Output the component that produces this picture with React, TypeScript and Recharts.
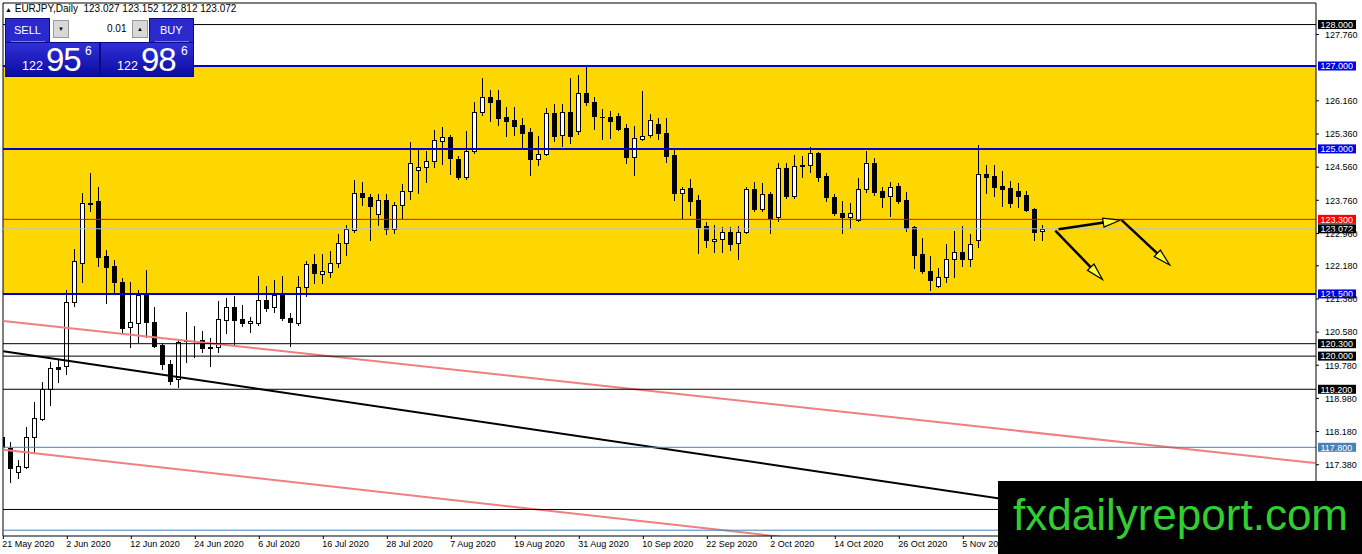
import React from 'react';
import { ComposedChart, Bar, XAxis, YAxis, ReferenceLine, ReferenceArea } from 'recharts';

// EURJPY daily candles, [open, high, low, close], 21 May 2020 -> 17 Nov 2020
const ohlc: [number, number, number, number][] = [
  [118.06, 118.5, 117.7, 117.8], [117.78, 117.94, 116.97, 117.29], [117.21, 117.49, 117.05, 117.35],
  [117.33, 118.3, 117.29, 118.06], [118.06, 118.89, 117.66, 118.5], [118.48, 119.37, 118.45, 119.2],
  [119.21, 119.87, 118.82, 119.71], [119.73, 119.91, 119.38, 119.7], [119.75, 121.6, 119.57, 121.31],
  [121.31, 122.59, 121.22, 122.3], [122.25, 123.94, 121.8, 123.69], [123.69, 124.41, 123.49, 123.67],
  [123.74, 124.09, 122.18, 122.4], [122.42, 122.56, 121.29, 122.16], [122.18, 122.32, 121.52, 121.8],
  [121.79, 121.88, 120.57, 120.69], [120.7, 121.8, 120.23, 120.83], [120.79, 121.6, 120.33, 121.48],
  [121.49, 122.08, 120.47, 120.82], [120.82, 121.19, 120.23, 120.25], [120.27, 120.32, 119.68, 119.8],
  [119.8, 119.91, 119.33, 119.4], [119.45, 120.41, 119.26, 120.33], [120.39, 121.06, 119.87, 120.37],
  [120.37, 120.73, 119.99, 120.36], [120.39, 120.61, 120.11, 120.19], [120.22, 120.43, 119.77, 120.2],
  [120.21, 121.33, 120.11, 120.89], [120.86, 121.41, 120.55, 121.18], [121.18, 121.45, 120.27, 120.88],
  [120.89, 121.23, 120.73, 120.79], [120.79, 120.95, 120.57, 120.84], [120.79, 121.93, 120.75, 121.35],
  [121.35, 121.69, 121.1, 121.15], [121.18, 121.84, 121.07, 121.48], [121.48, 121.93, 120.86, 120.91],
  [120.91, 121.03, 120.25, 120.83], [120.79, 121.93, 120.75, 121.66], [121.66, 122.3, 121.45, 122.22],
  [122.22, 122.46, 121.77, 122.01], [121.99, 122.46, 121.77, 122.05], [122.03, 122.54, 121.9, 122.24],
  [122.24, 122.95, 122.16, 122.72], [122.72, 123.16, 122.44, 123.06], [123.04, 124.25, 123.0, 123.93],
  [123.94, 124.19, 123.65, 123.85], [123.85, 123.91, 122.79, 123.62], [123.43, 123.91, 123.16, 123.77],
  [123.77, 123.91, 122.95, 123.06], [123.06, 123.73, 122.96, 123.65], [123.65, 124.15, 123.31, 123.99],
  [123.99, 125.17, 123.78, 124.67], [124.49, 124.97, 123.94, 124.56], [124.56, 124.95, 124.21, 124.71],
  [124.71, 125.46, 124.57, 125.21], [125.2, 125.52, 124.64, 125.28], [125.28, 125.34, 124.39, 124.77],
  [124.75, 124.83, 124.27, 124.31], [124.33, 125.44, 124.27, 124.95], [124.95, 126.14, 124.89, 125.9],
  [125.9, 126.7, 125.82, 126.24], [126.24, 126.42, 125.68, 126.14], [126.18, 126.42, 125.58, 125.75],
  [125.76, 126.0, 125.3, 125.68], [125.7, 126.0, 125.34, 125.56], [125.58, 125.74, 125.03, 125.39],
  [125.41, 125.5, 124.37, 124.75], [124.75, 125.3, 124.61, 124.87], [124.87, 125.99, 124.86, 125.86],
  [125.86, 126.08, 125.19, 125.31], [125.34, 126.08, 125.07, 125.9], [125.9, 126.7, 125.15, 125.31],
  [125.44, 126.78, 125.35, 126.34], [126.34, 127.02, 126.06, 126.12], [126.14, 126.26, 125.47, 125.8],
  [125.78, 125.96, 125.23, 125.76], [125.76, 125.92, 125.26, 125.68], [125.79, 125.87, 125.46, 125.48],
  [125.5, 125.59, 124.65, 124.8], [124.8, 125.56, 124.37, 125.26], [125.25, 126.4, 125.21, 125.32],
  [125.33, 125.85, 125.28, 125.7], [125.6, 125.75, 125.23, 125.38], [125.38, 125.75, 124.69, 124.83],
  [124.85, 124.97, 123.77, 123.94], [123.94, 124.07, 123.3, 124.03], [124.05, 124.27, 123.41, 123.75],
  [123.77, 123.89, 122.48, 123.12], [123.14, 123.24, 122.63, 122.79], [122.77, 123.16, 122.52, 122.83],
  [122.82, 123.12, 122.52, 122.99], [122.99, 123.11, 122.56, 122.71], [122.72, 123.14, 122.34, 123.0],
  [123.0, 124.09, 122.96, 124.03], [124.03, 124.21, 123.49, 123.54], [123.55, 124.17, 123.51, 123.9],
  [123.91, 123.97, 122.98, 123.34], [123.36, 124.65, 123.26, 124.53], [124.55, 124.67, 123.81, 123.86],
  [123.86, 124.85, 123.81, 124.59], [124.59, 124.83, 124.31, 124.62], [124.61, 125.05, 124.45, 124.89],
  [124.91, 124.93, 124.23, 124.33], [124.35, 124.41, 123.75, 123.83], [123.85, 123.91, 123.41, 123.46],
  [123.46, 123.74, 122.96, 123.36], [123.36, 123.69, 123.08, 123.45], [123.28, 124.29, 123.27, 124.03],
  [124.03, 124.95, 123.97, 124.65], [124.65, 124.77, 123.89, 123.97], [123.99, 124.09, 123.61, 123.85],
  [123.86, 124.19, 123.38, 124.09], [124.1, 124.17, 123.7, 123.74], [123.77, 123.97, 123.03, 123.08],
  [123.11, 123.14, 122.13, 122.44], [122.46, 122.86, 122.01, 122.06], [122.05, 122.42, 121.6, 121.84],
  [121.7, 122.12, 121.66, 121.9], [121.9, 122.71, 121.78, 122.34], [122.34, 123.03, 121.92, 122.51],
  [122.51, 123.14, 122.17, 122.34], [122.34, 122.94, 122.17, 122.7], [122.8, 125.09, 122.63, 124.39],
  [124.39, 124.61, 123.94, 124.33], [124.35, 124.61, 123.86, 124.09], [124.1, 124.47, 123.63, 124.03],
  [124.05, 124.23, 123.61, 123.7], [123.99, 124.18, 123.61, 123.87], [123.89, 123.99, 123.49, 123.53],
  [123.55, 123.58, 122.8, 123.0], [123.027, 123.152, 122.812, 123.072],
];

const dateTicks = [0, 8, 16, 24, 32, 40, 48, 56, 64, 72, 80, 88, 96, 104, 112, 120];
const dateLabels = [
  '21 May 2020', '2 Jun 2020', '12 Jun 2020', '24 Jun 2020', '6 Jul 2020', '16 Jul 2020',
  '28 Jul 2020', '7 Aug 2020', '19 Aug 2020', '31 Aug 2020', '10 Sep 2020', '22 Sep 2020',
  '2 Oct 2020', '14 Oct 2020', '26 Oct 2020', '5 Nov 2020',
];
const priceTicks = [127.76, 126.16, 125.36, 124.56, 123.76, 122.96, 122.18, 121.38, 120.58, 119.78, 118.98, 118.18, 117.38];

const zone = [121.5, 127];
const blueLevels = [127, 125, 121.5];
const blackLevels = [128, 120.3, 120, 119.2];
const redLevels = [123.3];
const steelLevels = [117.8];
const bidPrice = 123.072;
const coveredLevels = [116.3, 115.8];

// trend lines as [bar index, price] pairs
const upperChannel = [[0, 120.85], [164, 117.42]];
const lowerChannel = [[0, 117.74], [164, 114.2]];
const blackTrend = [[0, 120.12], [164, 115.44]];
const arrows = [
  [[131.9, 123.06], [139.6, 123.28]],
  [[131.5, 123.03], [137.4, 121.85]],
  [[139.8, 123.28], [145.8, 122.2]],
];

const xDomain = [-0.0375, 164.0875];
const yDomain = [115.66, 128.52];

const FONT = '"Liberation Sans", Arial, sans-serif';

const data = ohlc.map(([o, h, l, c], i) => ({ idx: i, o, h, l, c, range: [l, h] }));

const Candle = (props: any) => {
  const { x, y, width, height, payload } = props;
  if (!payload) return null;
  const { o, h, l, c } = payload;
  const top = Math.min(y, y + height);
  const bot = Math.max(y, y + height);
  const py = (p: number) => (h === l ? top : top + ((h - p) / (h - l)) * (bot - top));
  const cx = Math.floor(x + width / 2) + 0.5;
  const bTop = Math.round(py(Math.max(o, c))) + 0.5;
  const bBot = Math.round(py(Math.min(o, c))) + 0.5;
  const bull = c >= o;
  return (
    <g>
      <line x1={cx} x2={cx} y1={Math.round(top)} y2={Math.round(bot) + 1} stroke="#000" strokeWidth={1} />
      {bBot - bTop < 1 ? (
        <line x1={cx - 2.5} x2={cx + 2.5} y1={bTop} y2={bTop} stroke="#000" strokeWidth={1} />
      ) : (
        <rect x={cx - 2} y={bTop} width={4} height={bBot - bTop} fill={bull ? '#fff' : '#000'} stroke="#000" strokeWidth={1} />
      )}
    </g>
  );
};

const tag = (price: number, bg: string) => (props: any) => {
  const vb = props.viewBox || {};
  const right = (vb.x || 0) + (vb.width || 0);
  const y = vb.y || 0;
  return (
    <g>
      <rect x={right + 2} y={y - 4.5} width={38} height={9} fill={bg} />
      <text x={right + 4.5} y={y + 3.3} fill="#fff" fontSize={9} fontFamily={FONT}>
        {price.toFixed(3)}
      </text>
    </g>
  );
};

const DateTick = ({ x, y, payload }: any) => (
  <text x={x - 1} y={y + 8} fontSize={9} fontFamily={FONT} fill="#000" textAnchor="start">
    {dateLabels[dateTicks.indexOf(payload.value)]}
  </text>
);

const PriceTick = ({ x, y, payload }: any) => (
  <text x={x} y={y + 3.3} fontSize={9} fontFamily={FONT} fill="#000" textAnchor="start">
    {payload.value.toFixed(3)}
  </text>
);

const ArrowShape = (props: any) => {
  const { x1, y1, x2, y2 } = props;
  const dx = x2 - x1;
  const dy = y2 - y1;
  const len = Math.hypot(dx, dy) || 1;
  const ux = dx / len;
  const uy = dy / len;
  const hl = 17;
  const hw = 4.5;
  const bx = x2 - ux * hl;
  const by = y2 - uy * hl;
  const pts = `${x2},${y2} ${bx - uy * hw},${by + ux * hw} ${bx + uy * hw},${by - ux * hw}`;
  return (
    <g>
      <line x1={x1} y1={y1} x2={bx + ux * 4} y2={by + uy * 4} stroke="#000" strokeWidth={2.5} />
      <polygon points={pts} fill="#ffff33" stroke="#000" strokeWidth={1.2} />
    </g>
  );
};

const seg = (pts: number[][]) => pts.map(([x, y]) => ({ x, y }));

function TradePanel() {
  const blue = 'linear-gradient(#3030d8, #0c0ca0)';
  const box: React.CSSProperties = { position: 'absolute', background: blue, color: '#fff', fontFamily: FONT };
  const btn: React.CSSProperties = {
    position: 'absolute', top: 2, width: 16, height: 18, background: '#d8d8d8', border: '1px solid #999',
    boxSizing: 'border-box', fontSize: 6, textAlign: 'center', lineHeight: '16px',
  };
  return (
    <div style={{ position: 'absolute', left: 5, top: 18, width: 189, height: 59, background: '#0a0a86' }}>
      <div style={{ ...box, left: 1, top: 1, width: 43, height: 23, background: '#2a2acc' }}>
        <div style={{ position: 'absolute', left: 8, top: 5, fontSize: 11 }}>SELL</div>
        <div style={{ position: 'absolute', left: 5, top: 22, width: 34, height: 1, background: '#7a7ae8' }} />
      </div>
      <div style={{ position: 'absolute', left: 45, top: 0, width: 99, height: 24, background: '#fff' }}>
        <div style={{ ...btn, left: 3 }}>▼</div>
        <div style={{ position: 'absolute', left: 57, top: 5, fontSize: 10, fontFamily: FONT }}>0.01</div>
        <div style={{ ...btn, left: 82 }}>▲</div>
      </div>
      <div style={{ ...box, left: 145, top: 1, width: 43, height: 23, background: '#2a2acc' }}>
        <div style={{ position: 'absolute', left: 10, top: 5, fontSize: 11 }}>BUY</div>
        <div style={{ position: 'absolute', left: 5, top: 22, width: 34, height: 1, background: '#7a7ae8' }} />
      </div>
      <div style={{ ...box, left: 1, top: 25, width: 93, height: 33 }}>
        <div style={{ position: 'absolute', left: 16, top: 16, fontSize: 12.5 }}>122</div>
        <div style={{ position: 'absolute', left: 40, top: -2, fontSize: 33, letterSpacing: -1 }}>95</div>
        <div style={{ position: 'absolute', left: 79, top: 1, fontSize: 12 }}>6</div>
      </div>
      <div style={{ ...box, left: 96, top: 25, width: 92, height: 33 }}>
        <div style={{ position: 'absolute', left: 16, top: 16, fontSize: 12.5 }}>122</div>
        <div style={{ position: 'absolute', left: 40, top: -2, fontSize: 33, letterSpacing: -1 }}>98</div>
        <div style={{ position: 'absolute', left: 80, top: 1, fontSize: 12 }}>6</div>
      </div>
    </div>
  );
}

export default function App() {
  return (
    <div style={{ position: 'absolute', left: 0, top: 0, width: 1362, height: 554, background: '#fff', overflow: 'hidden' }}>
      <ComposedChart width={1362} height={554} data={data} margin={{ top: 3, right: 0, bottom: 0, left: 3 }}>
        <XAxis
          dataKey="idx"
          type="number"
          domain={xDomain}
          allowDataOverflow
          ticks={dateTicks}
          interval={0}
          tick={<DateTick />}
          tickSize={3}
          tickMargin={0}
          height={18}
          axisLine={{ stroke: '#000' }}
          tickLine={{ stroke: '#000' }}
        />
        <YAxis
          orientation="right"
          type="number"
          domain={yDomain}
          allowDataOverflow
          ticks={priceTicks}
          interval={0}
          tick={<PriceTick />}
          tickSize={3}
          tickMargin={6}
          width={46}
          axisLine={{ stroke: '#000' }}
          tickLine={{ stroke: '#000' }}
        />
        <ReferenceArea y1={zone[0]} y2={zone[1]} fill="#FFD700" fillOpacity={1} stroke="none" />
        <Bar dataKey="range" barSize={5} shape={<Candle />} isAnimationActive={false} />

        <ReferenceLine y={yDomain[1]} stroke="#000" strokeWidth={1} />
        <ReferenceLine x={xDomain[0]} stroke="#000" strokeWidth={1} />

        <ReferenceLine segment={seg(upperChannel)} stroke="#F08080" strokeWidth={2} ifOverflow="hidden" />
        <ReferenceLine segment={seg(lowerChannel)} stroke="#F08080" strokeWidth={2} ifOverflow="hidden" />
        <ReferenceLine segment={seg(blackTrend)} stroke="#000" strokeWidth={2} ifOverflow="hidden" />

        {coveredLevels.map((p, i) => (
          <ReferenceLine key={`cv${p}`} y={p} stroke={i === 0 ? '#000' : '#4682B4'} strokeWidth={1} />
        ))}
        {steelLevels.map((p) => (
          <ReferenceLine key={`st${p}`} y={p} stroke="#4682B4" strokeWidth={1} label={tag(p, '#4682B4')} />
        ))}
        {blackLevels.map((p) => (
          <ReferenceLine key={`bk${p}`} y={p} stroke="#000" strokeWidth={1} label={tag(p, '#000')} />
        ))}
        <ReferenceLine y={bidPrice} stroke="#C0C0C0" strokeWidth={1} label={tag(bidPrice, '#000')} />
        {redLevels.map((p) => (
          <ReferenceLine key={`rd${p}`} y={p} stroke="#FF0000" strokeWidth={1} label={tag(p, '#FF0000')} />
        ))}
        {blueLevels.map((p) => (
          <ReferenceLine key={`bl${p}`} y={p} stroke="#0000CD" strokeWidth={2} label={tag(p, '#0000E6')} />
        ))}
        {arrows.map((a, i) => (
          <ReferenceLine key={`ar${i}`} segment={seg(a)} shape={ArrowShape} />
        ))}
      </ComposedChart>

      <div style={{ position: 'absolute', left: 5, top: 3, fontSize: 10, fontFamily: FONT, color: '#000', whiteSpace: 'pre' }}>
        <span style={{ fontSize: 7 }}>▲</span>{' EURJPY,Daily  123.027 123.152 122.812 123.072'}
      </div>
      <TradePanel />

      <div style={{ position: 'absolute', left: 998, top: 481, width: 364, height: 73, background: '#000' }}>
        <div style={{ position: 'absolute', left: 15, top: 9, fontSize: 44, fontFamily: FONT, color: '#32CD32', whiteSpace: 'nowrap' }}>
          fxdailyreport.com
        </div>
      </div>
    </div>
  );
}
